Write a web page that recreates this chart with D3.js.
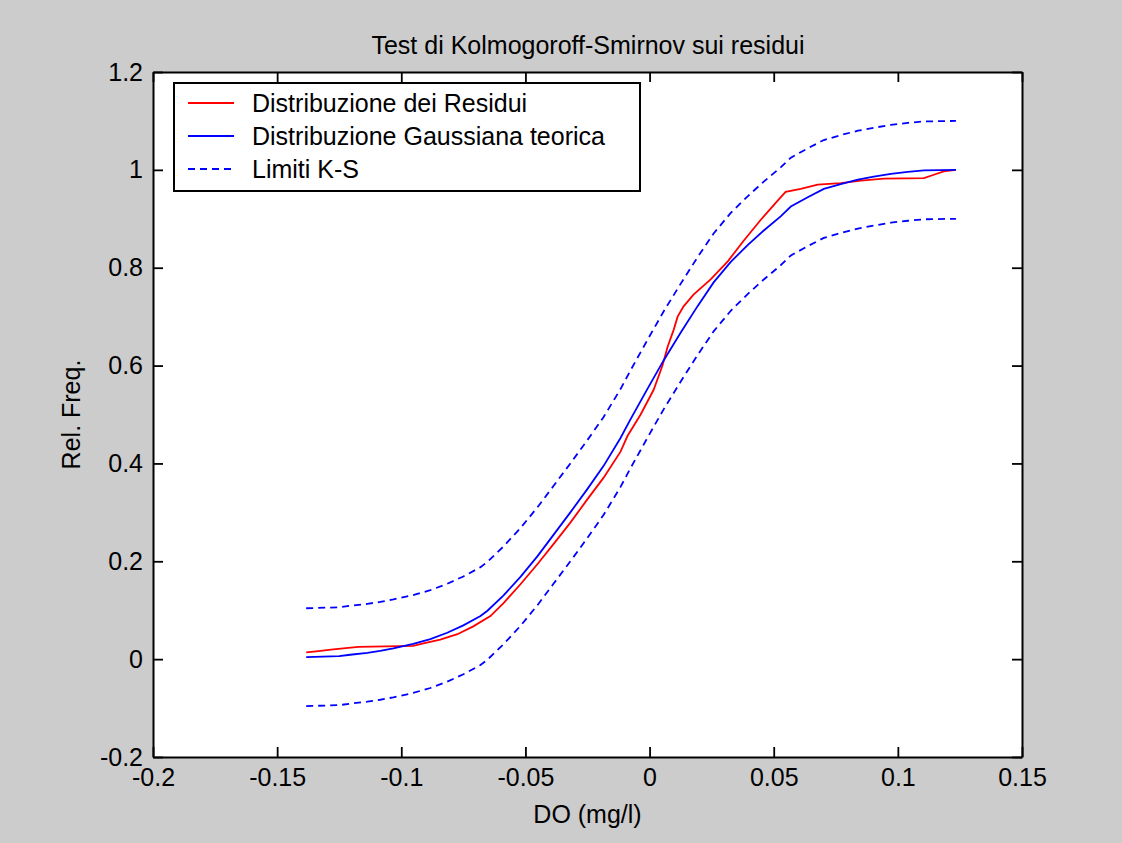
<!DOCTYPE html>
<html>
<head>
<meta charset="utf-8">
<script src="https://cdn.jsdelivr.net/npm/d3@7"></script>
<style>
  body { margin: 0; background: #cccccc; }
  text { font-family: "Liberation Sans", Arial, sans-serif; fill: #000; }
</style>
</head>
<body>
<svg id="chart"></svg>
<script>
// Figure size
const width = 1122;
const height = 843;

// Theoretical gaussian CDF
const gaussX = [-0.1383, -0.125, -0.1206, -0.1137, -0.1085, -0.1032, -0.0952, -0.0883, -0.0815, -0.075,
    -0.0681, -0.0653, -0.0589, -0.052, -0.0452, -0.0387, -0.0319, -0.025, -0.0185, -0.0117,
    -0.0077, -0.0008, 0.0056, 0.0125, 0.0194, 0.0258, 0.0327, 0.0395, 0.046, 0.0528,
    0.0569, 0.0637, 0.0702, 0.077, 0.0839, 0.0903, 0.0972, 0.104, 0.1105, 0.1234];
const gaussY = [0.004, 0.006, 0.009, 0.013, 0.017, 0.022, 0.031, 0.041, 0.054, 0.069,
    0.088, 0.099, 0.130, 0.168, 0.210, 0.254, 0.300, 0.348, 0.395, 0.452,
    0.490, 0.553, 0.610, 0.667, 0.722, 0.770, 0.812, 0.846, 0.876, 0.905,
    0.925, 0.944, 0.961, 0.971, 0.980, 0.986, 0.992, 0.996, 0.999, 1.000];

// K-S limits, upper and lower
const upperY = [0.104, 0.106, 0.109, 0.113, 0.117, 0.122, 0.131, 0.141, 0.154, 0.169,
    0.188, 0.199, 0.230, 0.268, 0.310, 0.354, 0.400, 0.448, 0.495, 0.552,
    0.590, 0.653, 0.710, 0.767, 0.822, 0.870, 0.912, 0.946, 0.976, 1.005,
    1.025, 1.044, 1.061, 1.071, 1.080, 1.086, 1.092, 1.096, 1.099, 1.100];
const lowerY = [-0.096, -0.094, -0.091, -0.087, -0.083, -0.078, -0.069, -0.059, -0.046, -0.031,
    -0.012, -0.001, 0.030, 0.068, 0.110, 0.154, 0.200, 0.248, 0.295, 0.352,
    0.390, 0.453, 0.510, 0.567, 0.622, 0.670, 0.712, 0.746, 0.776, 0.805,
    0.825, 0.844, 0.861, 0.871, 0.880, 0.886, 0.892, 0.896, 0.899, 0.900];

// Empirical distribution of residuals
const residX = [-0.1383, -0.1343, -0.1274, -0.1173, -0.0952, -0.0911, -0.0843, -0.0774, -0.071, -0.0641,
    -0.0589, -0.052, -0.0452, -0.0387, -0.0319, -0.025, -0.0185, -0.0117, -0.0089, -0.0036,
    0.0016, 0.0052, 0.0073, 0.0097, 0.0113, 0.0137, 0.0177, 0.0246, 0.0315, 0.0379,
    0.0448, 0.0516, 0.0548, 0.0609, 0.0677, 0.077, 0.0851, 0.0944, 0.1105, 0.1133,
    0.1185, 0.1234];
const residY = [0.014, 0.016, 0.020, 0.025, 0.027, 0.032, 0.040, 0.051, 0.067, 0.088,
    0.114, 0.153, 0.194, 0.235, 0.279, 0.327, 0.371, 0.424, 0.456, 0.500,
    0.550, 0.600, 0.639, 0.673, 0.700, 0.721, 0.745, 0.776, 0.813, 0.855,
    0.898, 0.937, 0.955, 0.961, 0.970, 0.973, 0.978, 0.982, 0.983, 0.988,
    0.997, 1.000];

// Ticks
const xTicks = [-0.2, -0.15, -0.1, -0.05, 0, 0.05, 0.1, 0.15];
const xTickLabels = ["-0.2", "-0.15", "-0.1", "-0.05", "0", "0.05", "0.1", "0.15"];
const yTicks = [-0.2, 0, 0.2, 0.4, 0.6, 0.8, 1, 1.2];
const yTickLabels = ["-0.2", "0", "0.2", "0.4", "0.6", "0.8", "1", "1.2"];

const legendLabels = ["Distribuzione dei Residui", "Distribuzione Gaussiana teorica", "Limiti K-S"];

// Plot box
const box = { left: 153, right: 1022, top: 72, bottom: 757 };

const x = d3.scaleLinear().domain([-0.2, 0.15]).range([box.left, box.right]);
const y = d3.scaleLinear().domain([-0.2, 1.2]).range([box.bottom, box.top]);

const svg = d3.select("#chart")
    .attr("width", width)
    .attr("height", height);

svg.append("rect").attr("width", width).attr("height", height).attr("fill", "#cccccc");
svg.append("rect")
    .attr("x", box.left).attr("y", box.top)
    .attr("width", box.right - box.left).attr("height", box.bottom - box.top)
    .attr("fill", "#fff");

const fontSize = 25;

// Axes (ticks pointing inward, like matlab)
const styleAxis = g => {
    g.select(".domain").attr("stroke", "#000").attr("stroke-width", 2);
    g.selectAll(".tick line").attr("stroke", "#000").attr("stroke-width", 1.8);
    g.selectAll(".tick text").attr("font-size", fontSize).attr("font-family", "Liberation Sans, Arial, sans-serif").attr("fill", "#000");
};

svg.append("g")
    .attr("transform", `translate(0,${box.bottom})`)
    .call(d3.axisBottom(x).tickValues(xTicks).tickFormat((d, i) => xTickLabels[i]).tickSize(-10).tickSizeOuter(0).tickPadding(11))
    .call(styleAxis);
svg.append("g")
    .attr("transform", `translate(0,${box.top})`)
    .call(d3.axisTop(x).tickValues(xTicks).tickFormat("").tickSize(-10).tickSizeOuter(0))
    .call(styleAxis);
svg.append("g")
    .attr("transform", `translate(${box.left},0)`)
    .call(d3.axisLeft(y).tickValues(yTicks).tickFormat((d, i) => yTickLabels[i]).tickSize(-10).tickSizeOuter(0).tickPadding(10))
    .call(styleAxis);
svg.append("g")
    .attr("transform", `translate(${box.right},0)`)
    .call(d3.axisRight(y).tickValues(yTicks).tickFormat("").tickSize(-10).tickSizeOuter(0))
    .call(styleAxis);

// Lines
const line = d3.line().x(d => x(d[0])).y(d => y(d[1]));

const series = [
    { xs: gaussX, ys: upperY, color: "#0000ff", dash: "7,5" },
    { xs: gaussX, ys: lowerY, color: "#0000ff", dash: "7,5" },
    { xs: residX, ys: residY, color: "#ff0000", dash: null },
    { xs: gaussX, ys: gaussY, color: "#0000ff", dash: null }
];

series.forEach(s => {
    svg.append("path")
        .datum(d3.zip(s.xs, s.ys))
        .attr("d", line)
        .attr("fill", "none")
        .attr("stroke", s.color)
        .attr("stroke-width", 1.8)
        .attr("stroke-dasharray", s.dash);
});

// Legend
const legend = svg.append("g");
legend.append("rect")
    .attr("x", 174).attr("y", 83)
    .attr("width", 466).attr("height", 108)
    .attr("fill", "#fff").attr("stroke", "#000").attr("stroke-width", 2);

const legendStyles = [
    { color: "#ff0000", dash: null },
    { color: "#0000ff", dash: null },
    { color: "#0000ff", dash: "7,5" }
];
legendLabels.forEach((lab, i) => {
    const cy = 103 + i * 33;
    legend.append("line")
        .attr("x1", 188).attr("x2", 234)
        .attr("y1", cy).attr("y2", cy)
        .attr("stroke", legendStyles[i].color)
        .attr("stroke-width", 1.8)
        .attr("stroke-dasharray", legendStyles[i].dash);
    legend.append("text")
        .attr("x", 252).attr("y", cy)
        .attr("dy", "0.36em")
        .attr("font-size", fontSize)
        .text(lab);
});

// Title and axis labels
svg.append("text")
    .attr("x", 588).attr("y", 54)
    .attr("text-anchor", "middle")
    .attr("font-size", fontSize)
    .text("Test di Kolmogoroff-Smirnov sui residui");

svg.append("text")
    .attr("x", (box.left + box.right) / 2).attr("y", 823)
    .attr("text-anchor", "middle")
    .attr("font-size", fontSize)
    .text("DO (mg/l)");

svg.append("text")
    .attr("transform", `translate(80,${(box.top + box.bottom) / 2}) rotate(-90)`)
    .attr("text-anchor", "middle")
    .attr("font-size", fontSize)
    .text("Rel. Freq.");
</script>
</body>
</html>
